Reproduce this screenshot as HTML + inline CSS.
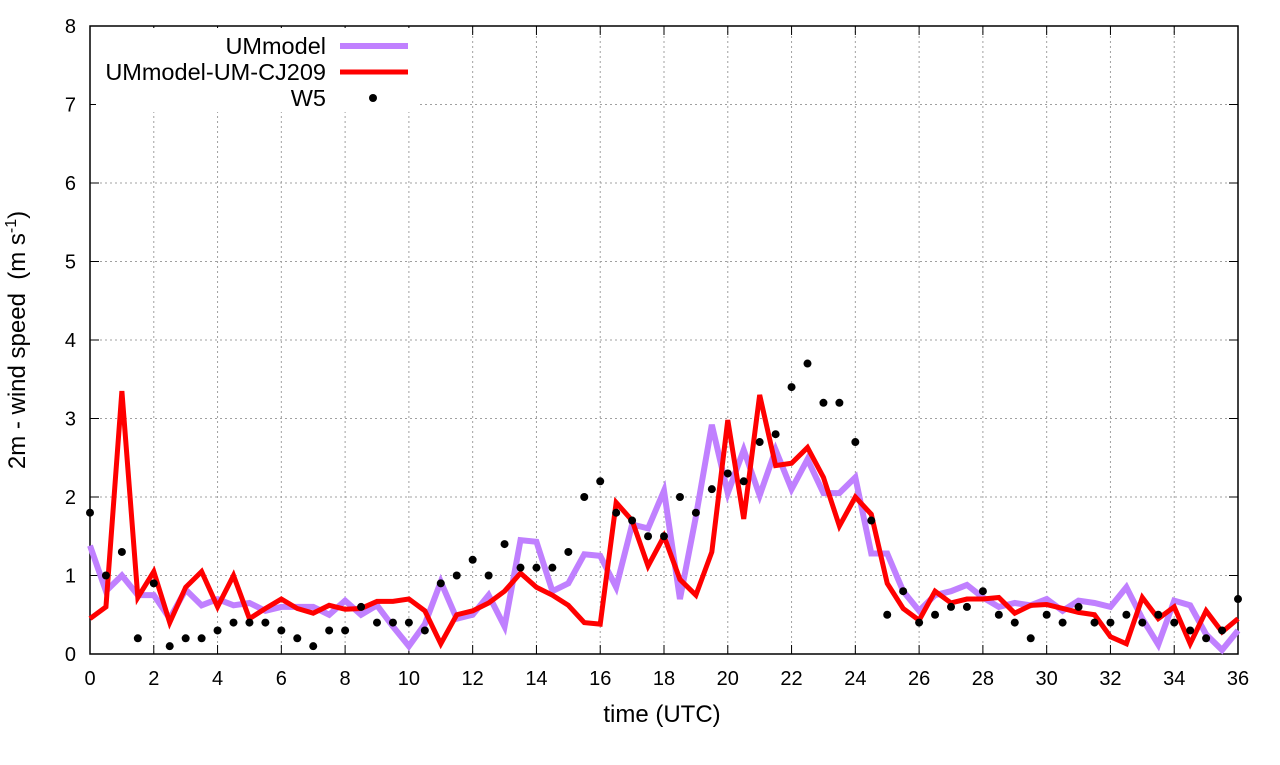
<!DOCTYPE html>
<html><head><meta charset="utf-8"><style>
html,body{margin:0;padding:0;background:#fff}
svg text{font-family:"Liberation Sans",sans-serif;fill:#000}
</style></head><body>
<svg id="chart" width="1280" height="760">
<g id="grid"></g>
<g id="axes"></g>
<g id="series"></g>
<text x="662" y="722" font-size="24" text-anchor="middle">time (UTC)</text>
<text transform="translate(25,340) rotate(-90)" font-size="24" text-anchor="middle">2m - wind speed&#160;&#160;(m s<tspan dy="-9" font-size="16">-1</tspan><tspan dy="9">)</tspan></text>
<g id="legend"></g>
</svg>
<script>
const xTicks=[0,2,4,6,8,10,12,14,16,18,20,22,24,26,28,30,32,34,36];
const yTicks=[0,1,2,3,4,5,6,7,8];
const obsW5=[1.8,1.0,1.3,0.2,0.9,0.1,0.2,0.2,0.3,0.4,0.4,0.4,0.3,0.2,0.1,0.3,0.3,0.6,0.4,0.4,0.4,0.3,0.9,1.0,1.2,1.0,1.4,1.1,1.1,1.1,1.3,2.0,2.2,1.8,1.7,1.5,1.5,2.0,1.8,2.1,2.3,2.2,2.7,2.8,3.4,3.7,3.2,3.2,2.7,1.7,0.5,0.8,0.4,0.5,0.6,0.6,0.8,0.5,0.4,0.2,0.5,0.4,0.6,0.4,0.4,0.5,0.4,0.5,0.4,0.3,0.2,0.3,0.7];
const umModel=[1.38,0.8,1.0,0.75,0.75,0.45,0.82,0.62,0.7,0.62,0.65,0.55,0.6,0.6,0.6,0.5,0.68,0.5,0.62,0.35,0.1,0.38,0.92,0.45,0.5,0.75,0.35,1.45,1.43,0.8,0.9,1.27,1.25,0.85,1.65,1.6,2.08,0.7,1.75,2.92,2.05,2.6,2.02,2.6,2.1,2.48,2.05,2.05,2.25,1.28,1.28,0.8,0.55,0.75,0.8,0.88,0.72,0.6,0.65,0.62,0.7,0.55,0.68,0.65,0.6,0.85,0.45,0.12,0.68,0.62,0.25,0.05,0.3];
const umCJ209=[0.45,0.6,3.35,0.72,1.05,0.4,0.85,1.05,0.6,1.0,0.45,0.58,0.7,0.58,0.52,0.62,0.57,0.58,0.67,0.67,0.7,0.55,0.13,0.5,0.55,0.65,0.8,1.03,0.85,0.75,0.62,0.4,0.38,1.93,1.7,1.12,1.5,0.95,0.75,1.3,2.98,1.72,3.3,2.4,2.43,2.63,2.25,1.63,2.0,1.78,0.9,0.58,0.43,0.8,0.65,0.7,0.7,0.72,0.52,0.62,0.63,0.58,0.53,0.5,0.22,0.13,0.72,0.45,0.6,0.13,0.55,0.28,0.45];
const timeStep=0.5;
const X0=90,X1=1238,Y0=654,Y1=26;
const xs=v=>X0+(X1-X0)*v/36, ys=v=>Y0-(Y0-Y1)*v/8;
const NS="http://www.w3.org/2000/svg";
function mk(p,t,a){const e=document.createElementNS(NS,t);for(const k in a)e.setAttribute(k,a[k]);p.appendChild(e);return e;}
const grid=document.getElementById('grid'),axes=document.getElementById('axes'),ser=document.getElementById('series'),leg=document.getElementById('legend');
xTicks.forEach(t=>{const x=xs(t);
 if(t>0&&t<36){const l=mk(grid,'line',{x1:x,x2:x,y1:Y1,y2:Y0,stroke:'#a0a0a0','stroke-dasharray':'2,3'});
 
 }
 mk(axes,'line',{x1:x,x2:x,y1:Y0,y2:Y0-9,stroke:'#000'});mk(axes,'line',{x1:x,x2:x,y1:Y1,y2:Y1+9,stroke:'#000'});
 const tx=mk(axes,'text',{x:x,y:Y0+31,'font-size':20,'text-anchor':'middle'});tx.textContent=t;
 
 });
yTicks.forEach(t=>{const y=ys(t);
 if(t>0&&t<8){const l=mk(grid,'line',{x1:X0,x2:X1,y1:y,y2:y,stroke:'#a0a0a0','stroke-dasharray':'2,3'});
 
 }
 mk(axes,'line',{x1:X0,x2:X0+9,y1:y,y2:y,stroke:'#000'});mk(axes,'line',{x1:X1,x2:X1-9,y1:y,y2:y,stroke:'#000'});
 const tx=mk(axes,'text',{x:X0-14,y:y+7,'font-size':20,'text-anchor':'end'});tx.textContent=t;
 
 });
mk(axes,'rect',{x:X0,y:Y1,width:X1-X0,height:Y0-Y1,fill:'none',stroke:'#000','stroke-width':1.5});
mk(leg,'rect',{x:96,y:28,width:324,height:84,fill:'#fff'});
function line(data,col,w,name){const pts=data.map((v,i)=>xs(i*timeStep)+','+ys(v)).join(' ');
 const p=mk(ser,'polyline',{points:pts,fill:'none',stroke:col,'stroke-width':w,'stroke-linejoin':'miter'});
 
 }
line(umModel,'#c080ff',6,'ummodel-line');
line(umCJ209,'#ff0000',5,'ummodel-um-cj209-line');
obsW5.forEach((v,i)=>{const c=mk(ser,'circle',{cx:xs(i*timeStep),cy:ys(v),r:4,fill:'#000'});
 
 });
const items=[['UMmodel','#c080ff',6,46],['UMmodel-UM-CJ209','#ff0000',5,72]];
items.forEach(([n,c,w,y])=>{const t=mk(leg,'text',{x:326,y:y+8,'font-size':23.5,'text-anchor':'end'});t.textContent=n;
 
 
 const l=mk(leg,'line',{x1:340,x2:408,y1:y,y2:y,stroke:c,'stroke-width':w});
 
 });
const t3=mk(leg,'text',{x:326,y:106,'font-size':23.5,'text-anchor':'end'});t3.textContent='W5';


const d3=mk(leg,'circle',{cx:373,cy:98,r:4,fill:'#000'});


</script>
</body></html>
